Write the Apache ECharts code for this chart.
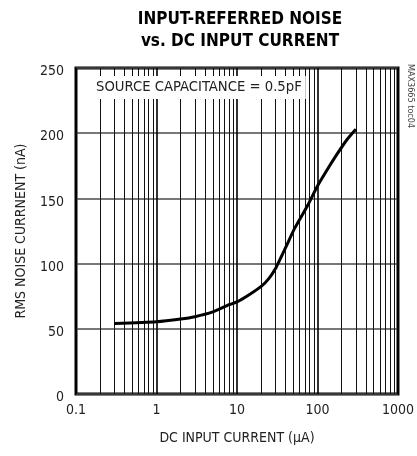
<!DOCTYPE html>
<html>
<head>
<meta charset="utf-8">
<script src="https://cdn.jsdelivr.net/npm/echarts@6/dist/echarts.min.js"></script>
<style>
  html, body { margin: 0; padding: 0; background: #fff; }
  #chart { width: 417px; height: 456px; }
</style>
</head>
<body>
<div id="chart"></div>
<script>
// DC input current (µA) and RMS noise current (nA)
const currentUA = [0.3, 1, 2, 3, 5, 8, 10, 14, 20, 25, 30, 35, 40, 52, 76, 100, 150, 175, 232, 300];
const noiseNA   = [54, 55.4, 57.5, 59.3, 63, 68.5, 70.6, 75.9, 82.5, 88.7, 96, 104.5, 112, 127, 145, 159.5, 177.5, 184, 195, 203];

// axis tick values
const yTicks = [0, 50, 100, 150, 200, 250];
const decades = [0.1, 1, 10, 100, 1000];
const minorMultipliers = [2, 3, 4, 5, 6, 7, 8, 9];

const FONT = '"Liberation Sans Narrow", "DejaVu Sans Condensed", "Arial Narrow", sans-serif';

// minor vertical grid positions (2..9 within each decade)
const minorGrid = [];
decades.slice(0, -1).forEach(d => minorMultipliers.forEach(m => minorGrid.push(+(d * m).toPrecision(3))));

const chart = echarts.init(document.getElementById('chart'));
chart.setOption({
  animation: false,
  title: {
    text: 'INPUT-REFERRED NOISE\nvs. DC INPUT CURRENT',
    left: 235, top: 4, textAlign: 'center',
    textStyle: { fontFamily: FONT, fontWeight: 'bold', fontSize: 17, lineHeight: 22, color: '#000' }
  },
  grid: {
    left: 76, right: 15.5, top: 68, bottom: 62,
    show: true, borderColor: '#000', borderWidth: 3, backgroundColor: '#fff'
  },
  xAxis: {
    type: 'log', logBase: 10, min: 0.1, max: 1000,
    name: 'DC INPUT CURRENT (\u03BCA)', nameLocation: 'middle', nameGap: 37,
    nameTextStyle: { fontFamily: FONT, fontSize: 14, color: '#222' },
    axisLine: { show: false },
    axisTick: { show: false },
    axisLabel: {
      fontFamily: FONT, fontSize: 14, color: '#222', margin: 9,
      formatter: v => String(v)
    },
    splitLine: { show: true, lineStyle: { color: '#000', width: 1.6 } }
  },
  yAxis: {
    type: 'value', min: yTicks[0], max: yTicks[yTicks.length - 1], interval: 50,
    name: 'RMS NOISE CURRNENT (nA)', nameLocation: 'middle', nameGap: 48,
    nameTextStyle: { fontFamily: FONT, fontSize: 14, color: '#222' },
    axisLine: { show: false },
    axisTick: { show: false },
    axisLabel: {
      fontFamily: FONT, fontSize: 14, color: '#222', margin: 12,
      verticalAlign: 'top', lineHeight: 7
    },
    splitLine: { show: true, lineStyle: { color: '#4a4a4a', width: 1.5 } }
  },
  series: [
    {
      type: 'line',
      data: currentUA.map((x, i) => [x, noiseNA[i]]),
      smooth: 0.2,
      showSymbol: false,
      lineStyle: { color: '#000', width: 3 },
      z: 5,
      markLine: {
        silent: true, symbol: 'none', label: { show: false },
        lineStyle: { color: '#111', width: 1, type: 'solid' },
        data: minorGrid.map(v => ({ xAxis: v }))
      }
    }
  ],
  graphic: [
    {
      type: 'text', left: 92, top: 76, z: 10,
      style: {
        text: 'SOURCE CAPACITANCE = 0.5pF',
        font: '14.7px ' + FONT, fill: '#222',
        backgroundColor: '#fff', padding: [4, 4, 4, 4]
      }
    },
    {
      type: 'text', left: 406, top: 64, rotation: -Math.PI / 2, originX: 0, originY: 0, z: 10,
      style: { text: 'MAX3665 toc04', font: '9px ' + FONT, fill: '#444' }
    }
  ]
});
</script>
</body>
</html>
